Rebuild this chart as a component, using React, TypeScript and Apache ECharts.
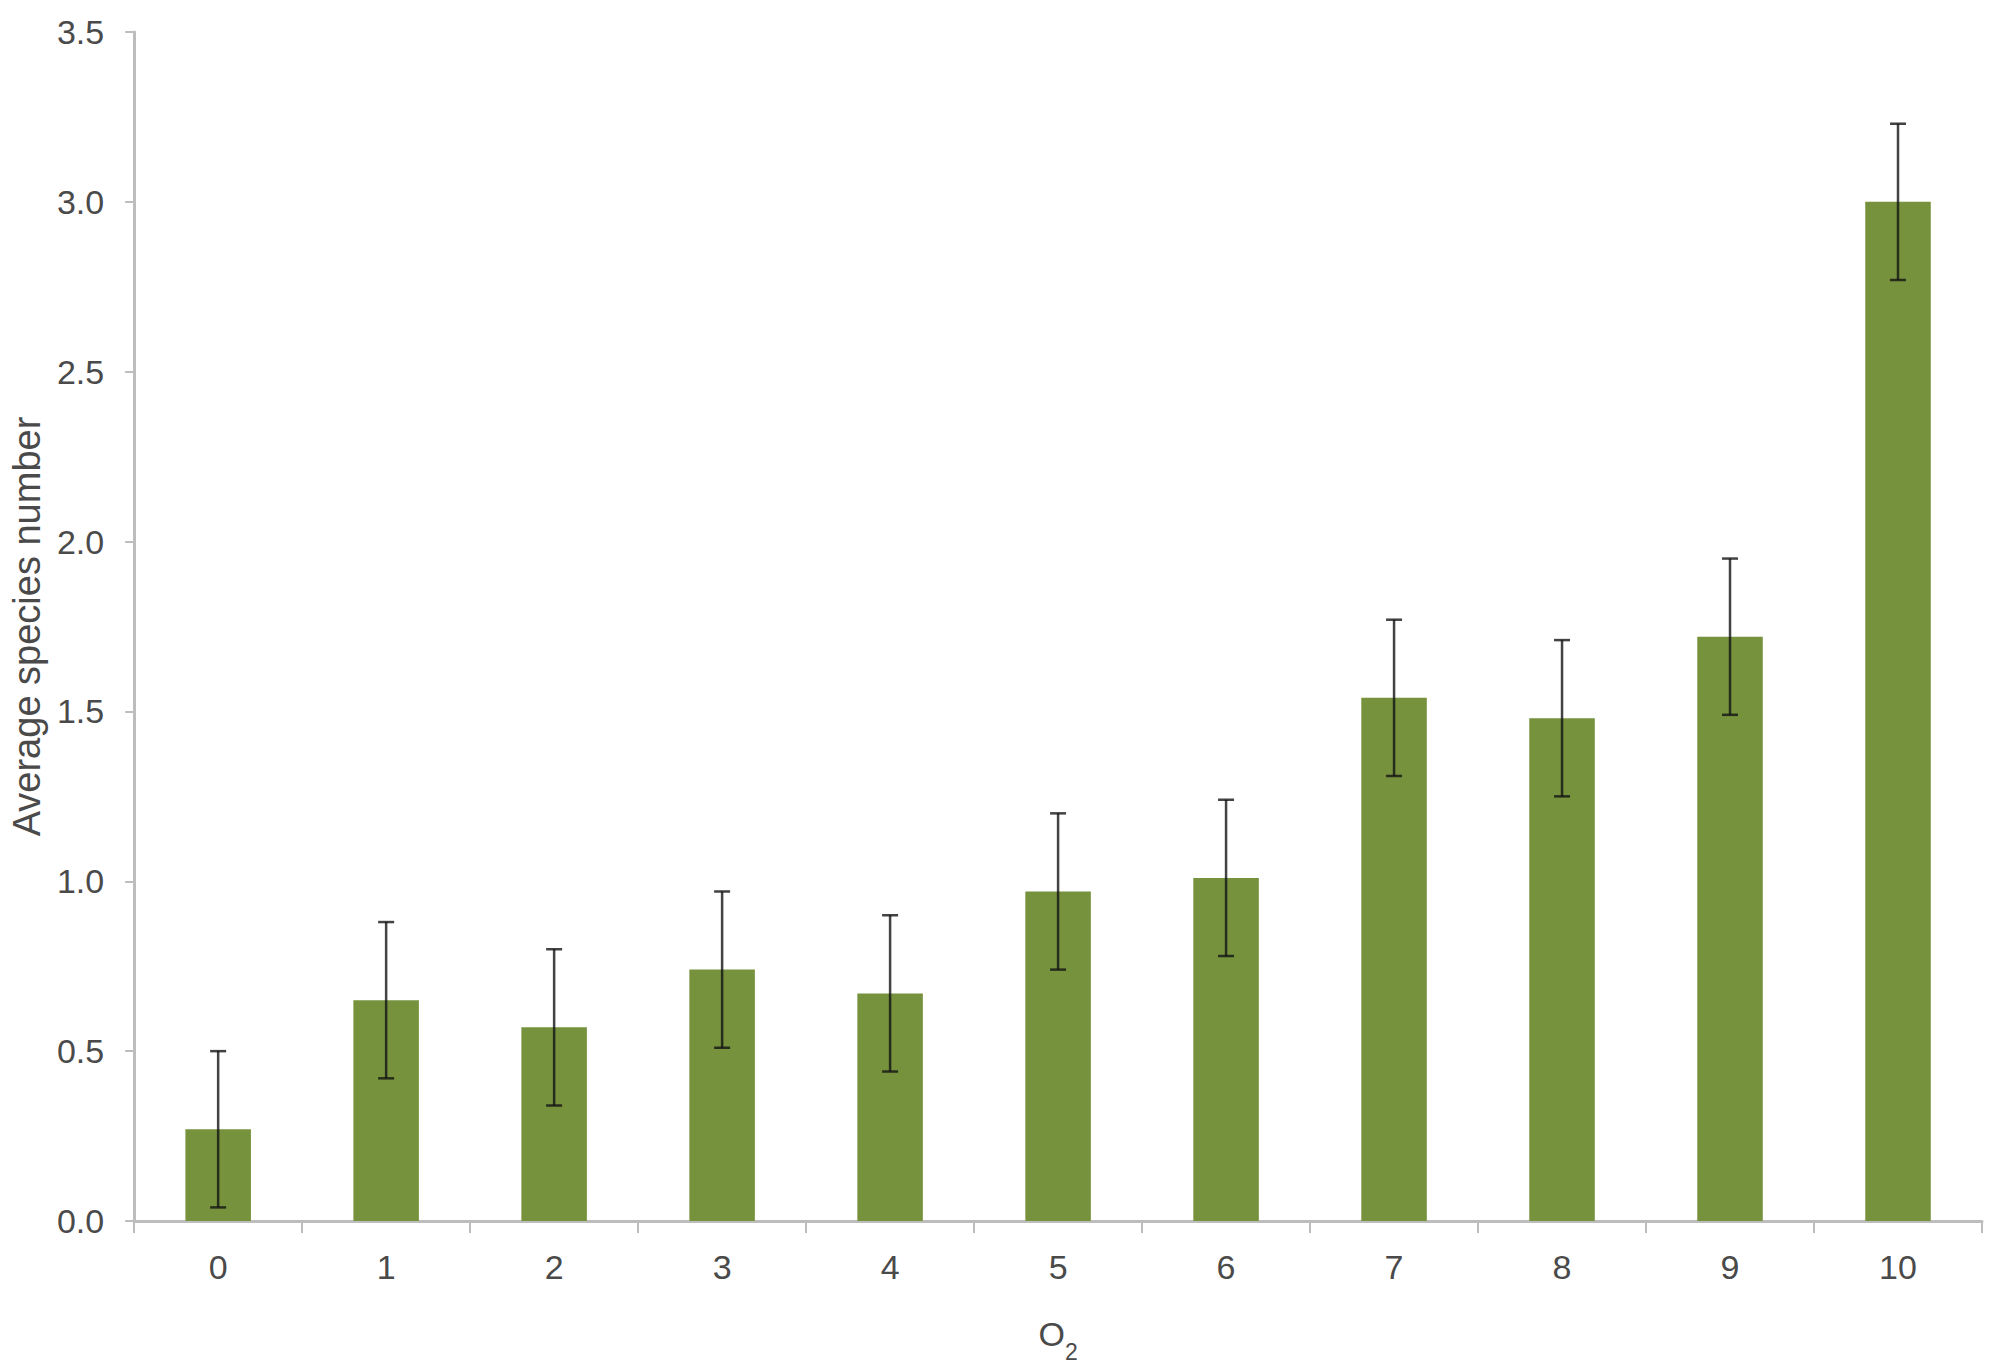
import React, { useEffect, useRef } from "react";
import * as echarts from "echarts";

const categories = ["0", "1", "2", "3", "4", "5", "6", "7", "8", "9", "10"];
const meanValues = [0.27, 0.65, 0.57, 0.74, 0.67, 0.97, 1.01, 1.54, 1.48, 1.72, 3.0];
const errorValues = [0.23, 0.23, 0.23, 0.23, 0.23, 0.23, 0.23, 0.23, 0.23, 0.23, 0.23];
const yTicks = { min: 0, max: 3.5, interval: 0.5 };

const FONT = "'Liberation Sans', Arial, sans-serif";
const LABEL_COLOR = "#4a4a4a";
const AXIS_COLOR = "#bdbdbd";

export default function App() {
  const ref = useRef<HTMLDivElement>(null);
  useEffect(() => {
    if (!ref.current) return;
    const chart = echarts.init(ref.current, null, { renderer: "svg" });
    const errData = categories.map((c, i) => [i, meanValues[i] - errorValues[i], meanValues[i] + errorValues[i]]);
    chart.setOption({
      animation: false,
      backgroundColor: "#ffffff",
      grid: { left: 133, right: 22, top: 32, bottom: 151 },
      xAxis: {
        type: "category",
        data: categories,
        boundaryGap: true,
        name: "{o|O}{s|2}",
        nameLocation: "middle",
        nameGap: 96,
        nameTextStyle: {
          rich: {
            o: { fontFamily: FONT, fontSize: 34, color: LABEL_COLOR },
            s: { fontFamily: FONT, fontSize: 23, color: LABEL_COLOR, verticalAlign: "bottom", padding: [0, 0, -12, 0] },
          },
        },
        axisLine: { lineStyle: { color: AXIS_COLOR, width: 3 } },
        axisTick: { show: true, length: 12, lineStyle: { color: AXIS_COLOR, width: 2 } },
        axisLabel: { fontFamily: FONT, fontSize: 34, color: LABEL_COLOR, margin: 29 },
        splitLine: { show: false },
      },
      yAxis: {
        type: "value",
        min: yTicks.min,
        max: yTicks.max,
        interval: yTicks.interval,
        name: "Average species number",
        nameLocation: "middle",
        nameGap: 88,
        nameTextStyle: { fontFamily: FONT, fontSize: 38, color: LABEL_COLOR },
        axisLine: { show: true, lineStyle: { color: AXIS_COLOR, width: 3 } },
        axisTick: { show: true, length: 9, lineStyle: { color: AXIS_COLOR, width: 2 } },
        axisLabel: {
          fontFamily: FONT,
          fontSize: 34,
          color: LABEL_COLOR,
          margin: 30,
          formatter: (v: number) => v.toFixed(1),
        },
        splitLine: { show: false },
      },
      series: [
        {
          type: "bar",
          data: meanValues,
          barWidth: "39%",
          itemStyle: { color: "#76923C" },
          z: 2,
        },
        {
          type: "custom",
          data: errData,
          z: 3,
          renderItem: (params: any, api: any) => {
            const x = api.value(0);
            const lo = api.coord([x, api.value(1)]);
            const hi = api.coord([x, api.value(2)]);
            const half = 8;
            const style = { stroke: "rgba(20,20,20,0.8)", lineWidth: 2.5 };
            return {
              type: "group",
              children: [
                { type: "line", shape: { x1: hi[0], y1: hi[1], x2: lo[0], y2: lo[1] }, style },
                { type: "line", shape: { x1: hi[0] - half, y1: hi[1], x2: hi[0] + half, y2: hi[1] }, style },
                { type: "line", shape: { x1: lo[0] - half, y1: lo[1], x2: lo[0] + half, y2: lo[1] }, style },
              ],
            };
          },
        },
      ],
    });
    return () => chart.dispose();
  }, []);
  return (
    <div
      ref={ref}
      style={{ position: "fixed", left: 0, top: 0, width: 2004, height: 1372, background: "#fff" }}
    />
  );
}
